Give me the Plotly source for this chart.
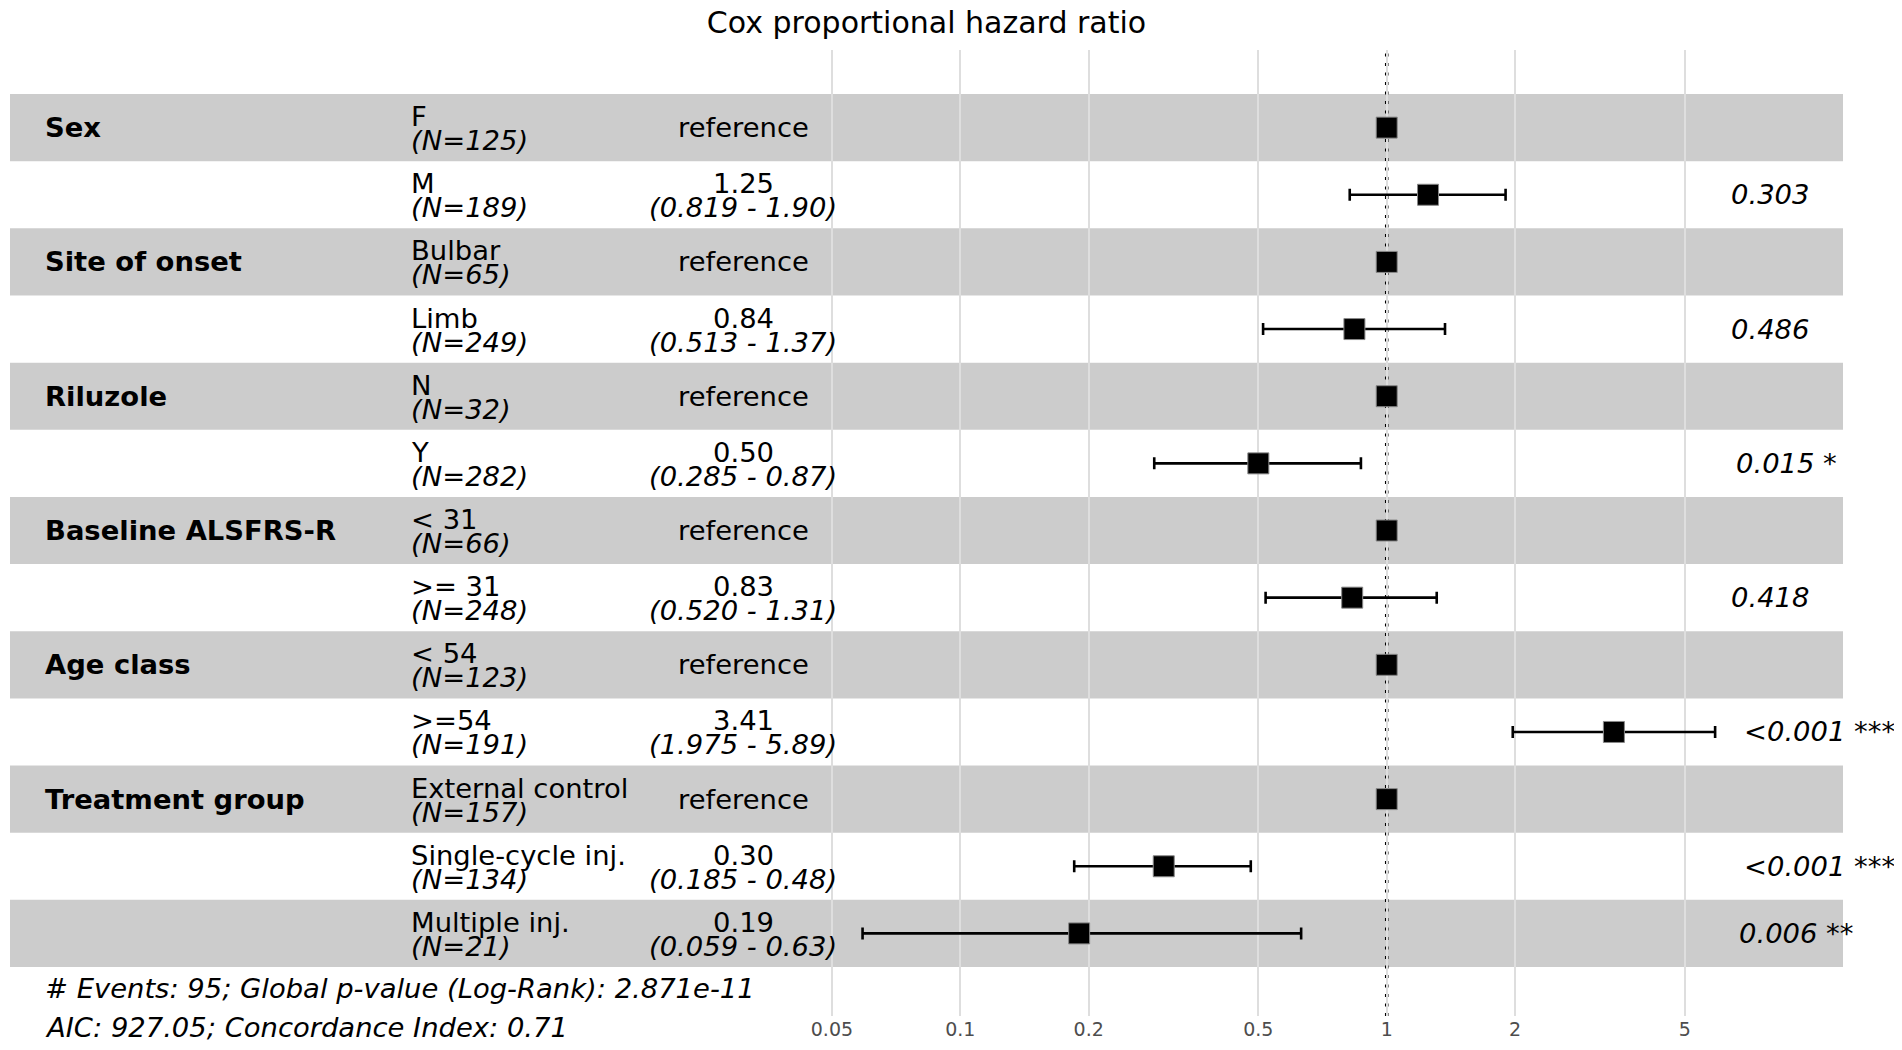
"""
Forest plot of Cox proportional hazard ratios (ggforest style).
Writes out.html.
"""

import math

import plotly.graph_objects as go

variables = ["Sex", "Site of onset", "Riluzole", "Baseline ALSFRS-R", "Age class", "Treatment group"]
group_sizes = [2, 2, 2, 2, 2, 3]
levels = ["F", "M", "Bulbar", "Limb", "N", "Y", "< 31", ">= 31", "< 54", ">=54",
          "External control", "Single-cycle inj.", "Multiple inj."]
counts = [125, 189, 65, 249, 32, 282, 66, 248, 123, 191, 157, 134, 21]
hazard = [1, 1.25, 1, 0.84, 1, 0.50, 1, 0.83, 1, 3.41, 1, 0.30, 0.19]
ci_low = [None, 0.819, None, 0.513, None, 0.285, None, 0.520, None, 1.975, None, 0.185, 0.059]
ci_high = [None, 1.90, None, 1.37, None, 0.87, None, 1.31, None, 5.89, None, 0.48, 0.63]
hr_labels = ["reference", "1.25", "reference", "0.84", "reference", "0.50", "reference", "0.83",
             "reference", "3.41", "reference", "0.30", "0.19"]
ci_labels = ["", "(0.819 - 1.90)", "", "(0.513 - 1.37)", "", "(0.285 - 0.87)", "", "(0.520 - 1.31)",
             "", "(1.975 - 5.89)", "", "(0.185 - 0.48)", "(0.059 - 0.63)"]
p_labels = ["", "0.303", "", "0.486", "", "0.015 *", "", "0.418", "", "<0.001 ***", "",
            "<0.001 ***", "0.006 **"]
events_note = "# Events: 95; Global p-value (Log-Rank): 2.871e-11"
aic_note = "AIC: 927.05; Concordance Index: 0.71"
tick_vals = [0.05, 0.1, 0.2, 0.5, 1, 2, 5]
tick_text = ["0.05", "0.1", "0.2", "0.5", "1", "2", "5"]

FONT = "DejaVu Sans"
FS = 27.4
# page body has an 8px margin, so the figure is 16px smaller than the window
W, H = 1886, 1034


def main() -> None:
    n = len(levels)
    row_y = [n - i for i in range(n)]

    # x range the way ggforest builds it (log scale)
    lo = math.log10(min(v for v in ci_low if v is not None))
    hi = math.log10(max(v for v in ci_high if v is not None))
    span = hi - lo
    x0, x1 = lo - span, hi + 0.15 * span
    width = x1 - x0
    x_var = x0 + 0.02 * width
    x_lev = x0 + 0.22 * width
    x_ci = x0 + 0.40 * width
    x_p = hi

    err_plus = [None if h is None else h - r for h, r in zip(ci_high, hazard)]
    err_minus = [None if l is None else r - l for l, r in zip(ci_low, hazard)]

    fig = go.Figure(go.Scatter(
        x=hazard,
        y=row_y,
        mode="markers",
        marker=dict(symbol="square", size=21, color="black",
                    line=dict(width=1, color="#888888")),
        error_x=dict(type="data", symmetric=False, array=err_plus, arrayminus=err_minus,
                     color="black", thickness=2.6, width=6),
        hoverinfo="skip",
        showlegend=False,
    ))

    shapes = []
    for i in range(0, n, 2):
        shapes.append(dict(type="rect", xref="paper", x0=0, x1=1, yref="y",
                           y0=row_y[i] - 0.5, y1=row_y[i] + 0.5,
                           fillcolor="rgba(0,0,0,0.2)", line=dict(width=0), layer="between"))
    shapes.append(dict(type="line", xref="x", x0=1, x1=1, yref="paper", y0=0, y1=1,
                       line=dict(color="black", width=3.5, dash="3px,6.5px"), layer="between"))

    ann = []
    start = 0
    for var, size in zip(variables, group_sizes):
        ann.append(dict(x=x_var, y=row_y[start], text=f"<b>{var}</b>",
                        xanchor="left", yanchor="middle", xshift=-4))
        start += size
    for i in range(n):
        ann.append(dict(x=x_lev, y=row_y[i], text=levels[i],
                        xanchor="left", yanchor="middle", xshift=-4, yshift=11))
        ann.append(dict(x=x_lev, y=row_y[i], text=f"<i>(N={counts[i]})</i>",
                        xanchor="left", yanchor="middle", xshift=-4, yshift=-13))
        if ci_labels[i]:
            ann.append(dict(x=x_ci, y=row_y[i], text=hr_labels[i],
                            xanchor="center", yanchor="middle", yshift=11))
            ann.append(dict(x=x_ci, y=row_y[i], text=f"<i>{ci_labels[i]}</i>",
                            xanchor="center", yanchor="middle", yshift=-13))
        else:
            ann.append(dict(x=x_ci, y=row_y[i], text=hr_labels[i],
                            xanchor="center", yanchor="middle"))
        if p_labels[i]:
            ann.append(dict(x=x_p, y=row_y[i], text=f"<i>{p_labels[i]}</i>",
                            xanchor="left", yanchor="middle", xshift=2.7 * len(p_labels[i])))
    bottom = row_y[-1] - 0.5
    ann.append(dict(x=x_var, y=bottom, text=f"<i>{events_note}</i>",
                    xanchor="left", yanchor="middle", xshift=-4, yshift=-22))
    ann.append(dict(x=x_var, y=bottom, text=f"<i>{aic_note}</i>",
                    xanchor="left", yanchor="middle", xshift=-4, yshift=-61))
    for a in ann:
        a.update(xref="x", yref="y", showarrow=False, font=dict(family=FONT, size=FS, color="black"))

    fig.update_layout(
        width=W,
        height=H,
        margin=dict(l=2, r=51, t=42, b=26),
        paper_bgcolor="white",
        plot_bgcolor="white",
        font=dict(family=FONT, color="black"),
        title=dict(text="Cox proportional hazard ratio", x=0.5, xref="paper", xanchor="center",
                   y=1 - 14 / H, yref="container", yanchor="middle",
                   font=dict(family=FONT, size=30, color="black")),
        xaxis=dict(type="log", range=[x0, x1], tickvals=tick_vals, ticktext=tick_text,
                   showgrid=True, gridcolor="#dedede", gridwidth=1.5, zeroline=False,
                   showline=False, ticks="", tickfont=dict(family=FONT, size=19, color="#4d4d4d")),
        yaxis=dict(range=[-0.23, n + 1.156], showgrid=False, zeroline=False,
                   showticklabels=False, ticks="", showline=False),
        shapes=shapes,
        annotations=ann,
    )
    fig.write_html("out.html")


if __name__ == "__main__":
    main()
